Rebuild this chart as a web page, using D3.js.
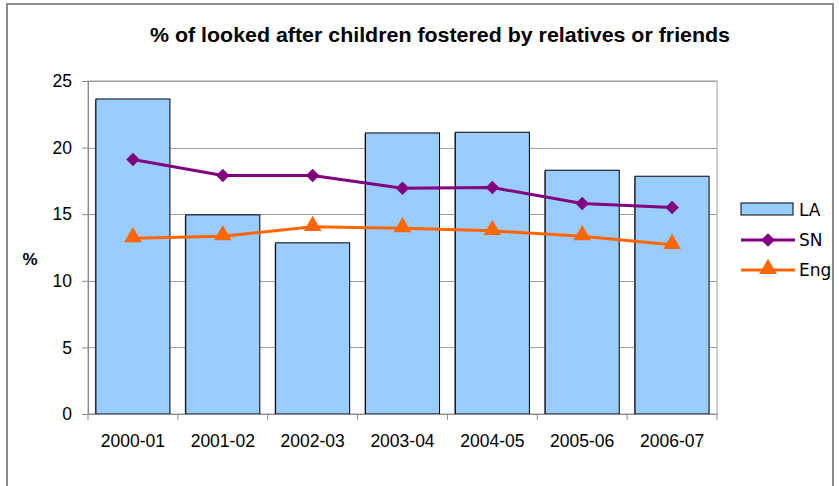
<!DOCTYPE html>
<html>
<head>
<script src="https://d3js.org/d3.v7.min.js"></script>
<style>
  body { margin: 0; background: #fff; }
  text { font-family: "Liberation Sans", Arial, sans-serif; }
</style>
</head>
<body>
<div id="container"></div>
<script>
// chart data
var years = ['2000-01', '2001-02', '2002-03', '2003-04', '2004-05', '2005-06', '2006-07'];
var laValues = [23.65, 14.95, 12.85, 21.1, 21.15, 18.3, 17.85];
var snValues = [19.1, 17.9, 17.9, 16.95, 17.0, 15.8, 15.5];
var engValues = [13.2, 13.35, 14.05, 13.95, 13.75, 13.35, 12.7];
var yTicks = [0, 5, 10, 15, 20, 25];
var seriesNames = ['LA', 'SN', 'Eng'];

const w = 839, h = 486;
const pLeft = 88, pRight = 717, pTop = 81, pBottom = 414;

const svg = d3.select('#container').append('svg')
  .attr('width', w).attr('height', h);

// outer frame
svg.append('rect')
  .attr('x', 7).attr('y', 4).attr('width', 826).attr('height', 500)
  .attr('fill', '#fff').attr('stroke', '#8c8c8c').attr('stroke-width', 2);

svg.append('text')
  .attr('x', 440).attr('y', 42)
  .attr('text-anchor', 'middle')
  .attr('textLength', 580).attr('lengthAdjust', 'spacingAndGlyphs')
  .style('font-size', '21px').style('font-weight', 'bold')
  .text('% of looked after children fostered by relatives or friends');

const xScale = d3.scaleBand().domain(years).range([pLeft, pRight])
  .paddingInner(0.176).paddingOuter(0.088);
const xPoint = d => xScale(d) + xScale.bandwidth() / 2;
const yScale = d3.scaleLinear().domain([0, 25]).range([pBottom, pTop]);

// plot area border
svg.append('rect')
  .attr('x', pLeft).attr('y', pTop).attr('width', pRight - pLeft).attr('height', pBottom - pTop)
  .attr('fill', '#fff').attr('stroke', '#a0a0a0').attr('stroke-width', 1);

// gridlines
svg.append('g').selectAll('line')
  .data(yTicks.filter(t => t > 0))
  .enter().append('line')
  .attr('x1', pLeft).attr('x2', pRight)
  .attr('y1', d => Math.round(yScale(d)) + 0.5).attr('y2', d => Math.round(yScale(d)) + 0.5)
  .attr('stroke', '#a0a0a0');

// bars (with a thin grey shadow on the left edge)
svg.append('g').selectAll('rect')
  .data(laValues)
  .enter().append('rect')
  .attr('x', (d, i) => xScale(years[i]) - 1)
  .attr('y', d => yScale(d) + 1)
  .attr('width', 2)
  .attr('height', d => yScale(0) - yScale(d) - 1)
  .attr('fill', '#707070');
svg.append('g').selectAll('rect')
  .data(laValues)
  .enter().append('rect')
  .attr('x', (d, i) => xScale(years[i]))
  .attr('y', d => yScale(d))
  .attr('width', xScale.bandwidth())
  .attr('height', d => yScale(0) - yScale(d))
  .attr('fill', '#99ccff')
  .attr('stroke', '#000').attr('stroke-width', 1);

// lines
const line = d3.line().x((d, i) => xPoint(years[i])).y(d => yScale(d));
svg.append('path').datum(snValues).attr('d', line)
  .attr('fill', 'none').attr('stroke', '#800080').attr('stroke-width', 3);
svg.append('path').datum(engValues).attr('d', line)
  .attr('fill', 'none').attr('stroke', '#ff6600').attr('stroke-width', 3);

const diamond = d3.symbol().type(d3.symbolDiamond2).size(115);
const triangle = d3.symbol().type(d3.symbolTriangle).size(135);

svg.append('g').selectAll('path')
  .data(snValues).enter().append('path')
  .attr('d', diamond)
  .attr('transform', (d, i) => `translate(${xPoint(years[i])},${yScale(d)})`)
  .attr('fill', '#800080');

svg.append('g').selectAll('path')
  .data(engValues).enter().append('path')
  .attr('d', triangle)
  .attr('transform', (d, i) => `translate(${xPoint(years[i])},${yScale(d) - 1})`)
  .attr('fill', '#ff6600');

// y axis
const yAxis = d3.axisLeft(yScale).tickValues(yTicks).tickSize(6).tickPadding(10);
const gy = svg.append('g').attr('transform', `translate(${pLeft},0)`).call(yAxis);
gy.select('.domain').attr('stroke', '#8c8c8c');
gy.selectAll('.tick line').attr('stroke', '#8c8c8c');
gy.selectAll('.tick text').style('font-size', '17.5px').attr('fill', '#000')
  .style('font-family', '"Liberation Sans", Arial, sans-serif');

// x axis: ticks at category boundaries
const gx = svg.append('g');
gx.append('line').attr('x1', pLeft).attr('x2', pRight)
  .attr('y1', pBottom + 0.5).attr('y2', pBottom + 0.5).attr('stroke', '#8c8c8c');
const step = xScale.step();
gx.selectAll('line.tk')
  .data(d3.range(years.length + 1)).enter().append('line')
  .attr('class', 'tk')
  .attr('x1', d => pLeft + d * step).attr('x2', d => pLeft + d * step)
  .attr('y1', pBottom).attr('y2', pBottom + 6).attr('stroke', '#8c8c8c');
gx.selectAll('text')
  .data(years).enter().append('text')
  .attr('x', d => xPoint(d)).attr('y', pBottom + 33)
  .attr('text-anchor', 'middle').style('font-size', '17.5px')
  .text(d => d);

svg.append('text')
  .attr('x', 30).attr('y', 265)
  .attr('text-anchor', 'middle')
  .style('font-size', '17px').style('font-weight', 'bold')
  .text('%');

// legend
const lg = svg.append('g');
lg.append('rect').attr('x', 741).attr('y', 203).attr('width', 52).attr('height', 12)
  .attr('fill', '#99ccff').attr('stroke', '#000');
lg.append('line').attr('x1', 741).attr('x2', 795).attr('y1', 240).attr('y2', 240)
  .attr('stroke', '#800080').attr('stroke-width', 3);
lg.append('path').attr('d', diamond).attr('transform', 'translate(768,240)').attr('fill', '#800080');
lg.append('line').attr('x1', 741).attr('x2', 795).attr('y1', 270).attr('y2', 270)
  .attr('stroke', '#ff6600').attr('stroke-width', 3);
lg.append('path').attr('d', triangle).attr('transform', 'translate(768,269)').attr('fill', '#ff6600');
lg.selectAll('text.lg')
  .data(seriesNames).enter().append('text')
  .attr('class', 'lg')
  .attr('x', 799).attr('y', (d, i) => 216 + i * 30)
  .style('font-size', '17px')
  .style('font-family', '"DejaVu Sans", sans-serif')
  .text(d => d);
</script>
</body>
</html>
